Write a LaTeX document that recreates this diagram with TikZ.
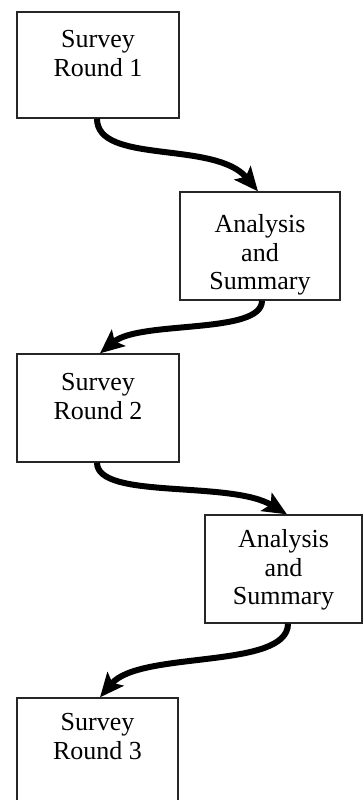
\documentclass[tikz,border=0pt]{standalone}
\usepackage{fontspec}
\setmainfont{Liberation Serif}
\usetikzlibrary{arrows.meta}
\begin{document}
\begin{tikzpicture}[x=1pt,y=1pt,
  stagebox/.style={draw=black!85, line width=1.3pt, rectangle, inner sep=0pt},
  stagetext/.style={anchor=north, align=center, inner sep=0pt,
    font=\fontsize{26}{28.5}\selectfont},
  flow/.style={line width=6pt, -{Stealth[length=24pt,width=21pt,inset=5pt]}}]
\clip (0,0) rectangle (363,-800);
\useasboundingbox (0,0) rectangle (363,-800);
% boxes
\node[stagebox, minimum width=162pt, minimum height=106pt] (b1) at (98,-65) {};
\node[stagebox, minimum width=160pt, minimum height=108pt] (b2) at (260,-246) {};
\node[stagebox, minimum width=162pt, minimum height=108pt] (b3) at (98,-408) {};
\node[stagebox, minimum width=157pt, minimum height=108pt] (b4) at (283.5,-569) {};
\node[stagebox, minimum width=161pt, minimum height=120pt] (b5) at (97.5,-758) {};
% texts
\node[stagetext] (t1) at ([yshift=-16pt]b1.north) {\strut Survey\\Round 1};
\node[stagetext] (t2) at ([yshift=-21pt]b2.north) {\strut Analysis\\and\\Summary};
\node[stagetext] (t3) at ([yshift=-17pt]b3.north) {\strut Survey\\Round 2};
\node[stagetext] (t4) at ([yshift=-13pt]b4.north) {\strut Analysis\\and\\Summary};
\node[stagetext] (t5) at ([yshift=-13pt]b5.north) {\strut Survey\\Round 3};
% connectors
\draw[flow] ([xshift=-1pt]b1.south) .. controls (97,-165) and (215,-140) .. ([xshift=-2pt]b2.north);
\draw[flow] ([xshift=2pt]b2.south) .. controls (262,-335) and (140,-320) .. ([xshift=2pt]b3.north);
\draw[flow] ([xshift=-1pt]b3.south) .. controls (97,-500) and (230,-480) .. ([xshift=3.5pt]b4.north);
\draw[flow] ([xshift=4.5pt]b4.south) .. controls (288,-670) and (140,-650) .. ([xshift=2.5pt]b5.north);
\end{tikzpicture}
\end{document}
